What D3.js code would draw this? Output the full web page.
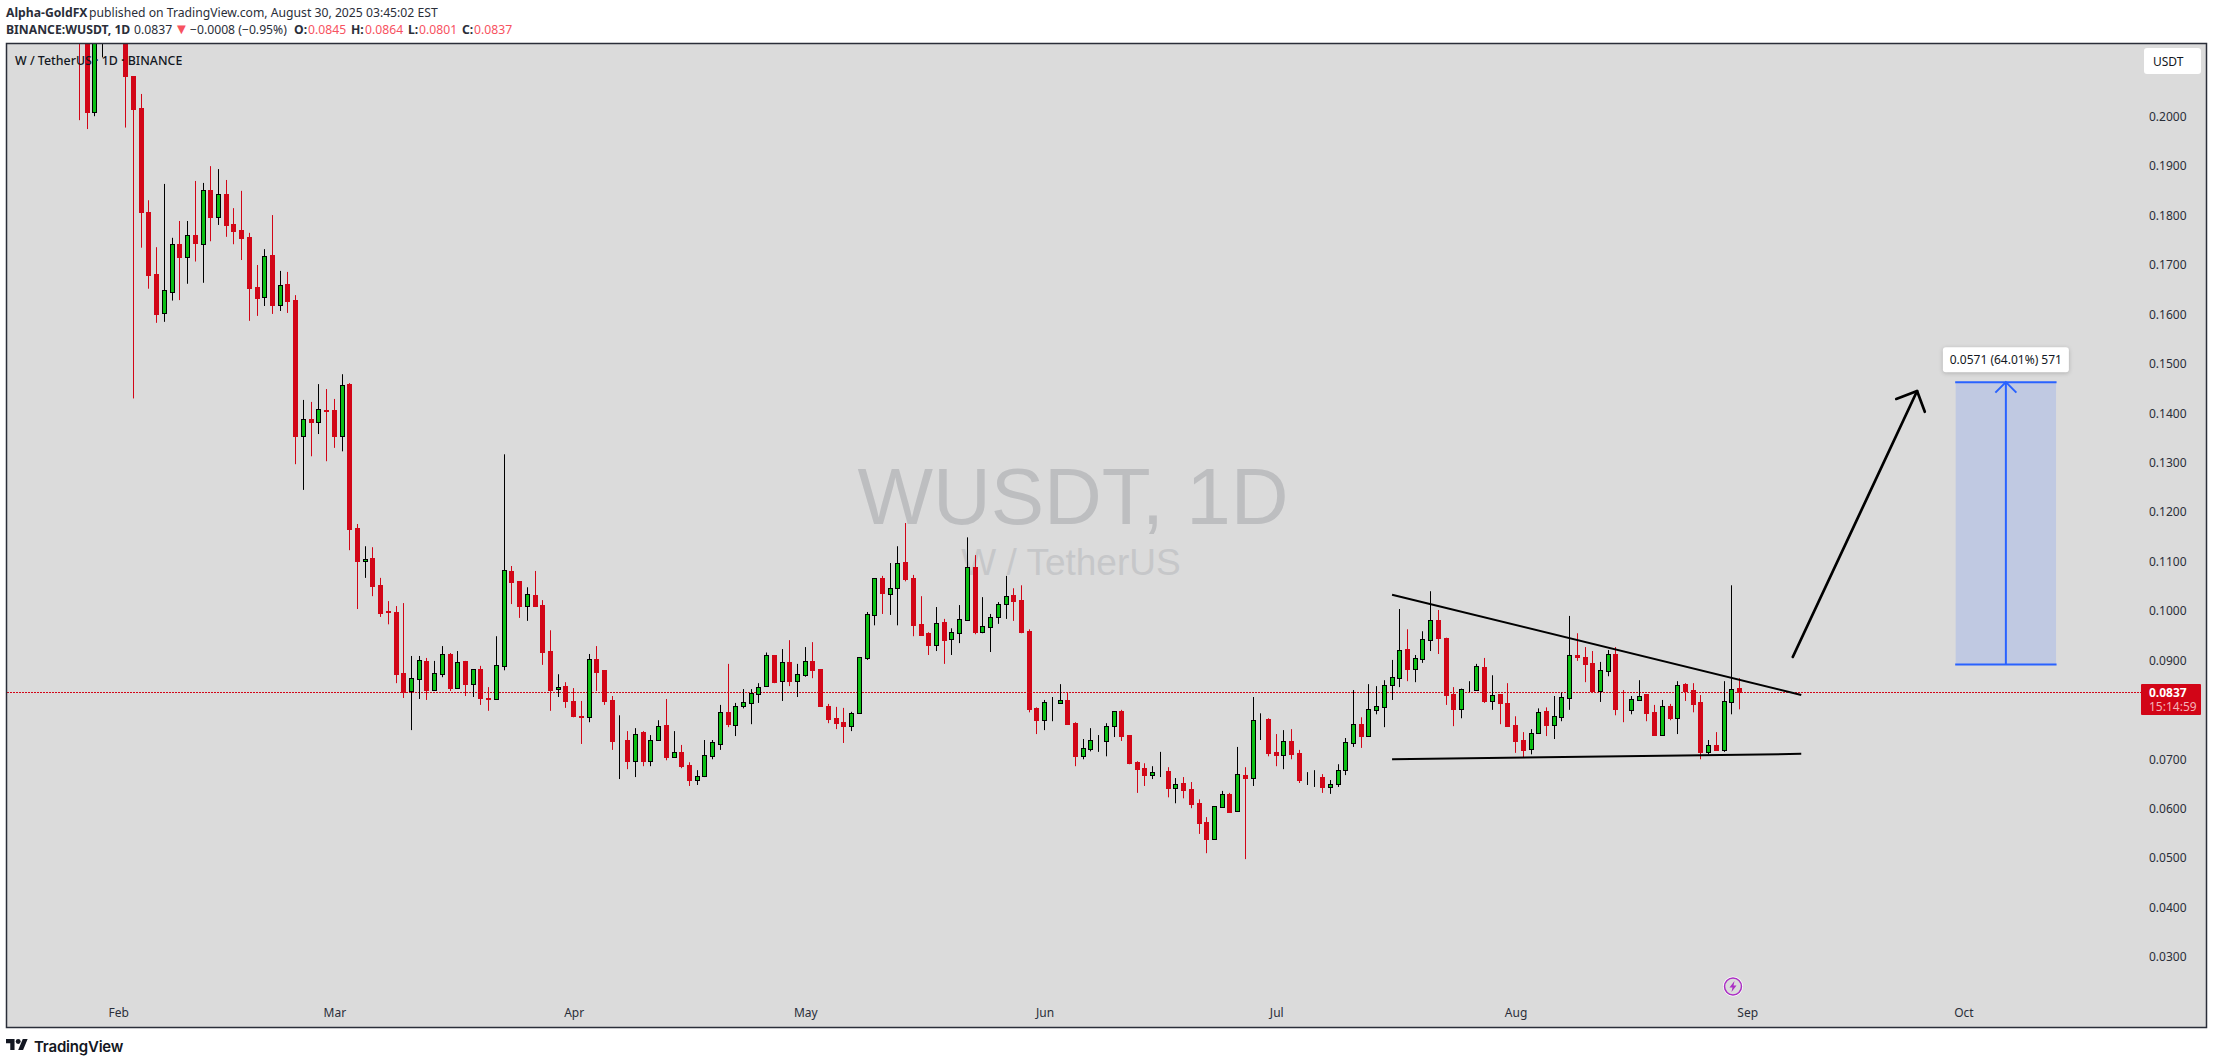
<!DOCTYPE html>
<html>

<head>
    <title>WUSDT 1D</title>
    <style>
        html,
        body {
            background-color: #ffffff;
            margin: 0;
            padding: 0;
        }

        svg {
            display: block;
            font-family: 'Noto Sans', sans-serif;
        }

        .axis text {
            font-size: 12px;
            fill: #2a2e39;
            font-family: 'Noto Sans', sans-serif;
        }

        .axis path,
        .axis line {
            display: none;
        }
    </style>
</head>

<body>
    <div id="chart"></div>

    <script src="https://cdnjs.cloudflare.com/ajax/libs/d3/7.6.1/d3.min.js"></script>
    <script>

        // prices below are in 1/10000 USDT, one entry per daily bar (27 Jan - 30 Aug)
        // the first bars run off the top of the chart, their tops are estimates
        const opens = [
            2260, 2190, 2010, 2230, 2300, 2320, 2250, 2082, 2017, 1808,
            1681, 1602, 1646, 1742, 1717, 1761, 1743, 1852, 1798, 1844,
            1783, 1771, 1757, 1655, 1636, 1720, 1620, 1661, 1629, 1355,
            1388, 1383, 1406, 1406, 1354, 1459, 1168, 1102, 1107, 1052,
            999, 997, 874, 839, 863, 899, 841, 873, 913, 845,
            899, 853, 882, 823, 822, 889, 1081, 1060, 1011, 1032,
            1012, 919, 843, 848, 818, 787, 786, 903, 880, 820,
            738, 739, 697, 755, 697, 739, 769, 705, 714, 688,
            658, 667, 706, 731, 795, 770, 807, 814, 832, 849,
            911, 859, 897, 859, 871, 899, 882, 808, 783, 775,
            767, 793, 905, 992, 1067, 1035, 1046, 1099, 1067, 973,
            955, 932, 977, 944, 956, 982, 1089, 958, 968, 988,
            1015, 1032, 1022, 959, 803, 780, 816, 814, 819, 773,
            707, 721, 738, 737, 768, 797, 749, 694, 682, 669,
            675, 676, 642, 652, 640, 611, 573, 539, 604, 630,
            596, 669, 663, 781, 781, 714, 709, 737, 712, 661,
            663, 664, 644, 650, 679, 733, 771, 747, 800, 806,
            851, 865, 923, 883, 903, 942, 982, 945, 832, 802,
            843, 841, 886, 818, 832, 814, 769, 739, 721, 754,
            797, 770, 786, 824, 911, 907, 895, 839, 879, 913,
            804, 800, 820, 832, 795, 750, 808, 784, 852, 840,
            816, 715, 729, 719, 816, 845
        ];
        const highs = [
            2290, 2240, 2260, 2320, 2340, 2350, 2280, 2082, 2046, 1831,
            1736, 1864, 1755, 1789, 1789, 1870, 1866, 1900, 1894, 1872,
            1815, 1850, 1765, 1700, 1732, 1801, 1688, 1686, 1639, 1427,
            1423, 1459, 1449, 1429, 1479, 1461, 1176, 1131, 1129, 1067,
            1020, 1010, 1016, 909, 909, 905, 899, 929, 915, 919,
            899, 882, 889, 846, 949, 1317, 1091, 1060, 1048, 1081,
            1022, 961, 872, 856, 844, 818, 913, 929, 880, 828,
            789, 757, 763, 757, 749, 779, 822, 757, 729, 694,
            678, 739, 739, 810, 893, 814, 842, 842, 854, 916,
            911, 923, 941, 893, 927, 937, 882, 812, 806, 804,
            796, 906, 998, 1066, 1071, 1097, 1131, 1178, 1073, 1030,
            957, 1008, 984, 965, 1012, 1149, 1113, 1028, 994, 1018,
            1071, 1046, 1052, 963, 805, 820, 826, 852, 834, 775,
            741, 763, 749, 773, 797, 800, 749, 696, 692, 686,
            715, 684, 662, 664, 654, 619, 583, 605, 636, 632,
            725, 684, 826, 793, 783, 751, 759, 761, 719, 674,
            678, 670, 658, 690, 743, 840, 785, 852, 848, 860,
            901, 1004, 963, 911, 959, 1040, 1002, 946, 846, 843,
            858, 893, 905, 870, 832, 854, 787, 755, 761, 803,
            805, 828, 835, 990, 955, 927, 919, 897, 921, 927,
            840, 828, 860, 832, 810, 820, 812, 858, 854, 854,
            830, 739, 755, 858, 1052, 864
        ];
        const lows = [
            1993, 1975, 2001, 2120, 2220, 2240, 1978, 1430, 1735, 1652,
            1583, 1585, 1628, 1629, 1662, 1707, 1664, 1748, 1781, 1757,
            1742, 1710, 1587, 1597, 1617, 1601, 1607, 1603, 1297, 1245,
            1313, 1358, 1303, 1330, 1323, 1123, 1004, 1067, 1030, 988,
            973, 854, 824, 759, 822, 820, 839, 866, 838, 844,
            828, 826, 810, 798, 820, 880, 1014, 986, 980, 1008,
            891, 798, 826, 804, 785, 731, 775, 838, 810, 719,
            660, 680, 664, 686, 686, 739, 698, 703, 682, 646,
            648, 664, 700, 719, 765, 747, 803, 771, 814, 848,
            854, 818, 848, 826, 867, 864, 806, 773, 761, 733,
            757, 793, 901, 971, 994, 992, 971, 1060, 949, 951,
            911, 919, 893, 911, 935, 982, 953, 955, 917, 974,
            984, 980, 955, 795, 751, 759, 777, 814, 771, 686,
            700, 716, 715, 706, 745, 737, 690, 632, 646, 660,
            664, 623, 611, 621, 601, 549, 510, 537, 603, 593,
            596, 498, 646, 739, 706, 686, 680, 700, 652, 648,
            644, 632, 630, 644, 668, 725, 723, 747, 791, 765,
            820, 846, 858, 856, 895, 919, 913, 810, 767, 783,
            836, 841, 814, 800, 771, 767, 713, 704, 710, 754,
            747, 741, 777, 800, 899, 856, 834, 816, 868, 789,
            775, 791, 818, 777, 749, 749, 779, 751, 818, 795,
            700, 710, 717, 715, 791, 801
        ];
        const closes = [
            2190, 2010, 2230, 2300, 2320, 2250, 2082, 2016, 1808, 1680,
            1601, 1649, 1742, 1717, 1760, 1744, 1851, 1797, 1843, 1781,
            1769, 1755, 1653, 1633, 1719, 1619, 1659, 1627, 1354, 1388,
            1383, 1408, 1405, 1354, 1458, 1166, 1101, 1106, 1050, 996,
            998, 872, 836, 864, 900, 840, 874, 912, 844, 896,
            852, 882, 824, 822, 890, 1082, 1058, 1010, 1034, 1010,
            917, 840, 847, 818, 787, 786, 902, 876, 818, 737,
            738, 697, 752, 697, 740, 768, 704, 714, 686, 658,
            667, 708, 734, 795, 771, 807, 815, 835, 847, 910,
            857, 896, 858, 872, 898, 880, 808, 781, 773, 767,
            793, 906, 993, 1066, 1036, 1046, 1098, 1065, 971, 951,
            931, 975, 941, 957, 983, 1088, 957, 969, 987, 1015,
            1031, 1020, 957, 801, 779, 815, 816, 819, 771, 706,
            722, 740, 738, 768, 797, 747, 692, 680, 668, 675,
            675, 642, 650, 638, 609, 571, 539, 605, 629, 593,
            671, 662, 779, 781, 712, 708, 736, 710, 658, 661,
            663, 644, 650, 679, 734, 771, 747, 801, 807, 851,
            866, 922, 882, 904, 944, 981, 945, 830, 801, 843,
            843, 888, 818, 831, 814, 767, 737, 719, 754, 795,
            769, 787, 825, 910, 907, 893, 838, 880, 912, 802,
            803, 821, 829, 793, 749, 807, 783, 851, 838, 812,
            715, 728, 719, 817, 843, 837
        ];

        // 0.0800 has no label, the last price tag sits on it
        const priceTicks = [300, 400, 500, 600, 700, 900, 1000, 1100, 1200, 1300, 1400, 1500, 1600, 1700, 1800, 1900, 2000];
        const monthLabels = ['Feb', 'Mar', 'Apr', 'May', 'Jun', 'Jul', 'Aug', 'Sep', 'Oct'];
        const monthBars = [5, 33, 64, 94, 125, 155, 186, 216, 244];

        const lastPrice = 837;

        // drawings on top of the candles: [bar, price]
        const upperTrend = [[170, 1033], [223, 830]];
        const lowerTrend = [[170, 700], [223, 711]];
        const bigArrow = [[221.9, 907], [238, 1445]];
        const bigArrowHead = [[235.3, 1429], [238, 1445], [239, 1403]];
        const measureBars = [243, 256];
        const measurePrices = [892, 1463];

        const plot = { left: 6.5, top: 43.5, right: 2206.5, bottom: 1027.5 };

        const xScale = d3.scaleLinear().domain([0, 215]).range([79.5, 1739.5]);
        const yScale = d3.scaleLinear().domain([300, 2000]).range([957, 116.7]);

        const green = '#0abf14';
        const red = '#d20517';

        const svg = d3.select('#chart')
            .append('svg')
            .attr('width', 2213)
            .attr('height', 1064);

        svg.append('clipPath')
            .attr('id', 'plot-clip')
            .append('rect')
            .attr('x', plot.left)
            .attr('y', plot.top)
            .attr('width', plot.right - plot.left)
            .attr('height', plot.bottom - plot.top);

        svg.append('rect')
            .attr('x', plot.left)
            .attr('y', plot.top)
            .attr('width', plot.right - plot.left)
            .attr('height', plot.bottom - plot.top)
            .attr('fill', '#dbdbdb');

        // watermark
        svg.append('text')
            .attr('x', 1073)
            .attr('y', 524)
            .attr('text-anchor', 'middle')
            .style('font-family', "'Liberation Sans', sans-serif")
            .style('font-size', '80px')
            .attr('fill', '#bdbec0')
            .text('WUSDT, 1D');

        svg.append('text')
            .attr('x', 1071)
            .attr('y', 575)
            .attr('text-anchor', 'middle')
            .style('font-family', "'Liberation Sans', sans-serif")
            .style('font-size', '37px')
            .attr('fill', '#c6c7c9')
            .text('W / TetherUS');

        const chart = svg.append('g').attr('clip-path', 'url(#plot-clip)');

        // last price line
        chart.append('line')
            .attr('x1', 7)
            .attr('x2', 2141)
            .attr('y1', Math.round(yScale(lastPrice)) + 0.5)
            .attr('y2', Math.round(yScale(lastPrice)) + 0.5)
            .attr('stroke', red)
            .attr('stroke-dasharray', '2 1');

        // candles
        const bars = d3.range(opens.length);
        const barLeft = (i) => Math.floor(xScale(i));

        chart.append('g')
            .selectAll('line')
            .data(bars)
            .enter()
            .append('line')
            .attr('x1', (i) => barLeft(i) + 0.5)
            .attr('x2', (i) => barLeft(i) + 0.5)
            .attr('y1', (i) => yScale(highs[i]))
            .attr('y2', (i) => yScale(lows[i]))
            .attr('stroke', (i) => closes[i] >= opens[i] ? '#000000' : red);

        chart.append('g')
            .selectAll('rect')
            .data(bars)
            .enter()
            .append('rect')
            .attr('x', (i) => barLeft(i) - 1.5)
            .attr('width', 4)
            .attr('y', (i) => Math.round(yScale(Math.max(opens[i], closes[i]))) + 0.5)
            .attr('height', (i) => Math.round(yScale(Math.min(opens[i], closes[i]))) - Math.round(yScale(Math.max(opens[i], closes[i]))))
            .attr('fill', (i) => closes[i] >= opens[i] ? green : red)
            .attr('stroke', (i) => closes[i] >= opens[i] ? '#000000' : red);

        const barLine = d3.line()
            .x((d) => xScale(d[0]))
            .y((d) => yScale(d[1]));

        [upperTrend, lowerTrend].forEach((trend) => {
            chart.append('path')
                .attr('d', barLine(trend))
                .attr('fill', 'none')
                .attr('stroke', '#000000')
                .attr('stroke-width', 2);
        });

        [bigArrow, bigArrowHead].forEach((part) => {
            chart.append('path')
                .attr('d', barLine(part))
                .attr('fill', 'none')
                .attr('stroke', '#000000')
                .attr('stroke-width', 2.7)
                .attr('stroke-linecap', 'round')
                .attr('stroke-linejoin', 'round');
        });

        // price range tool
        const mx0 = xScale(measureBars[0]);
        const mx1 = xScale(measureBars[1]);
        const mxMid = (mx0 + mx1) / 2;
        const myBase = yScale(measurePrices[0]);
        const myTop = yScale(measurePrices[1]);

        chart.append('rect')
            .attr('x', mx0)
            .attr('y', myTop)
            .attr('width', mx1 - mx0)
            .attr('height', myBase - myTop)
            .attr('fill', '#c0c9e2');

        [myTop, myBase].forEach((y) => {
            chart.append('line')
                .attr('x1', mx0 - 0.5)
                .attr('x2', mx1 + 0.5)
                .attr('y1', y)
                .attr('y2', y)
                .attr('stroke', '#2962ff')
                .attr('stroke-width', 2);
        });

        chart.append('line')
            .attr('x1', mxMid)
            .attr('x2', mxMid)
            .attr('y1', myBase)
            .attr('y2', myTop)
            .attr('stroke', '#2962ff')
            .attr('stroke-width', 2);

        chart.append('path')
            .attr('d', `M${mxMid - 10.5},${myTop + 10.5}L${mxMid},${myTop}L${mxMid + 10.5},${myTop + 10.5}`)
            .attr('fill', 'none')
            .attr('stroke', '#2962ff')
            .attr('stroke-width', 2);

        chart.append('rect')
            .attr('x', mxMid - 63)
            .attr('y', myTop - 35)
            .attr('width', 126)
            .attr('height', 25)
            .attr('rx', 3)
            .attr('fill', '#ffffff')
            .style('filter', 'drop-shadow(0 1px 2px rgba(0,0,0,0.2))');

        chart.append('text')
            .attr('x', mxMid)
            .attr('y', myTop - 18.5)
            .attr('text-anchor', 'middle')
            .style('font-size', '12px')
            .attr('fill', '#131722')
            .text('0.0571 (64.01%) 571');

        // axes
        svg.append('g')
            .attr('class', 'axis')
            .attr('transform', 'translate(2149,0)')
            .call(d3.axisRight(yScale)
                .tickValues(priceTicks)
                .tickSize(0)
                .tickPadding(0)
                .tickFormat((d) => (d / 10000).toFixed(4)));

        svg.append('g')
            .attr('class', 'axis')
            .attr('transform', 'translate(0,1000)')
            .call(d3.axisBottom(xScale)
                .tickValues(monthBars)
                .tickSize(0)
                .tickPadding(8)
                .tickFormat((d, i) => monthLabels[i]));

        // plot frame
        svg.append('rect')
            .attr('x', plot.left)
            .attr('y', plot.top)
            .attr('width', plot.right - plot.left)
            .attr('height', plot.bottom - plot.top)
            .attr('fill', 'none')
            .attr('stroke', '#2a2e39')
            .attr('stroke-width', 1.5);

        // last price tag
        svg.append('rect')
            .attr('x', 2141)
            .attr('y', 684)
            .attr('width', 60)
            .attr('height', 31)
            .attr('rx', 1)
            .attr('fill', red);

        svg.append('text')
            .attr('x', 2149)
            .attr('y', 696.5)
            .style('font-size', '12px')
            .style('font-weight', 700)
            .attr('fill', '#ffffff')
            .text((lastPrice / 10000).toFixed(4));

        svg.append('text')
            .attr('x', 2149)
            .attr('y', 710.5)
            .style('font-size', '12px')
            .attr('fill', '#f3b4b9')
            .text('15:14:59');

        // currency button
        svg.append('rect')
            .attr('x', 2144)
            .attr('y', 48)
            .attr('width', 57)
            .attr('height', 26)
            .attr('rx', 3)
            .attr('fill', '#ffffff');

        svg.append('text')
            .attr('x', 2153)
            .attr('y', 65.5)
            .style('font-size', '12px')
            .attr('fill', '#131722')
            .text('USDT');

        // pane legend
        svg.append('text')
            .attr('x', 15)
            .attr('y', 65)
            .style('font-size', '12.4px')
            .style('font-weight', 500)
            .attr('fill', '#131722')
            .text('W / TetherUS · 1D · BINANCE');

        // flash icon
        const flash = svg.append('g').attr('transform', 'translate(1733,986.5)');
        flash.append('circle').attr('r', 10).attr('fill', '#ffffff');
        flash.append('circle').attr('r', 8.5).attr('fill', '#dbdbdb').attr('stroke', '#ab2fc4').attr('stroke-width', 1.5);
        flash.append('path').attr('d', 'M1.5,-5.5L-3.5,1H-0.5L-1.5,5.5L3.5,-1H0.5Z').attr('fill', '#ab2fc4');

        // header
        const line1 = svg.append('text')
            .attr('y', 17)
            .style('font-size', '12.2px')
            .attr('fill', '#2a2e39');
        line1.append('tspan').attr('x', 6).style('font-weight', 700).text('Alpha-GoldFX');
        line1.append('tspan').attr('x', 89).text('published on TradingView.com, August 30, 2025 03:45:02 EST');

        const line2 = svg.append('text')
            .attr('y', 34)
            .style('font-size', '12.2px')
            .attr('fill', '#2a2e39');
        line2.append('tspan').attr('x', 6).style('font-weight', 700).text('BINANCE:WUSDT, 1D');
        line2.append('tspan').attr('x', 134).text('0.0837');
        line2.append('tspan').attr('x', 174).attr('fill', '#f7525f').style('font-size', '15px').text('▼');
        line2.append('tspan').attr('x', 190).text('−0.0008 (−0.95%)');
        [['O:', '0.0845', 294, 308], ['H:', '0.0864', 351, 365], ['L:', '0.0801', 408, 419], ['C:', '0.0837', 462, 474]].forEach(([k, v, kx, vx]) => {
            line2.append('tspan').attr('x', kx).style('font-weight', 700).text(k);
            line2.append('tspan').attr('x', vx).attr('fill', '#f7525f').text(v);
        });

        // footer logo
        const logo = svg.append('g').attr('transform', 'translate(6,1036.6) scale(0.61)');
        logo.append('path').attr('d', 'M14 22H7V11H0V4h14v18zM28 22h-8l7.5-18h8L28 22z').attr('fill', '#131722');
        logo.append('circle').attr('cx', 20).attr('cy', 8).attr('r', 4).attr('fill', '#131722');

        svg.append('text')
            .attr('x', 34)
            .attr('y', 1051.5)
            .style('font-family', "'Inter', sans-serif")
            .style('font-size', '15px')
            .style('font-weight', 600)
            .style('letter-spacing', '-0.2px')
            .attr('fill', '#131722')
            .text('TradingView');

    </script>
</body>

</html>
